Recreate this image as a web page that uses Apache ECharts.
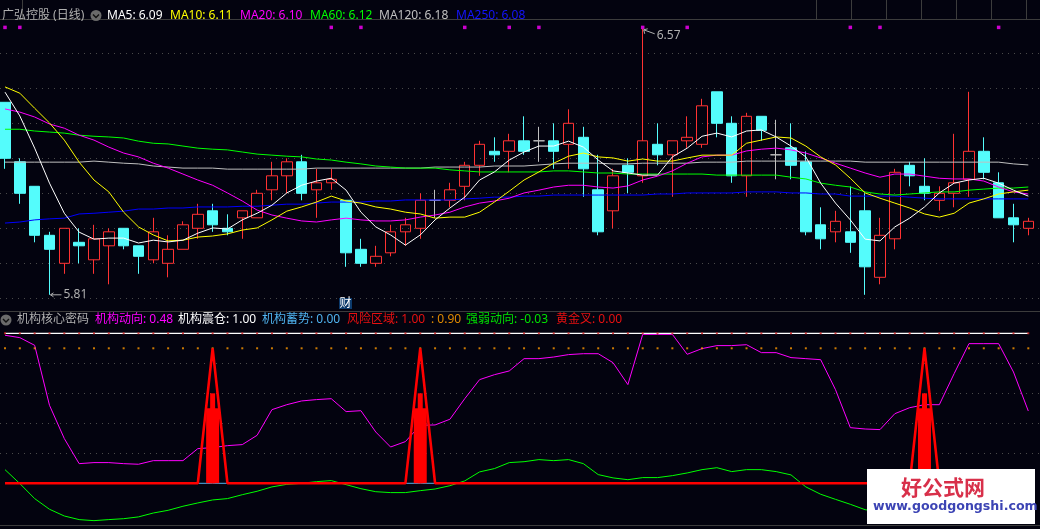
<!DOCTYPE html>
<html style="height: 100%">
<head>
<meta charset="utf-8">
<script src="https://cdn.jsdelivr.net/npm/echarts@6/dist/echarts.min.js"></script>
</head>
<body style="height: 100%; margin: 0; background: #03030f">
<div id="container" style="width: 1040px; height: 529px"></div>
<script type="text/javascript">
// daily candles
var opens = [6.36,6.19,6.12,5.98,5.90,5.96,5.91,5.95,6.00,5.95,
  5.91,5.90,5.94,6.00,6.05,6.00,6.03,6.03,6.11,6.15,
  6.19,6.11,6.13,6.08,5.94,5.90,5.93,5.99,6.00,6.08,
  6.08,6.12,6.18,6.22,6.22,6.25,6.25,6.25,6.24,6.26,
  6.11,6.05,6.18,6.15,6.24,6.21,6.25,6.24,6.39,6.30,
  6.15,6.32,6.21,6.23,6.19,6.01,5.99,5.99,6.05,5.86,
  5.97,6.18,6.12,6.08,6.10,6.14,6.22,6.13,6.03,6.00];
var closes = [6.20,6.10,5.98,5.94,6.00,5.95,5.97,5.99,5.95,5.92,
  5.99,5.94,6.01,6.04,6.01,5.99,6.05,6.10,6.15,6.19,
  6.10,6.13,6.14,5.93,5.90,5.92,5.99,6.01,6.08,6.08,
  6.11,6.18,6.24,6.21,6.25,6.22,6.25,6.22,6.30,6.17,
  5.99,6.15,6.16,6.25,6.21,6.25,6.26,6.35,6.30,6.15,
  6.32,6.28,6.21,6.18,5.99,5.97,6.02,5.96,5.89,5.98,
  6.16,6.15,6.10,6.10,6.13,6.22,6.16,6.03,6.01,6.02];
var lows = [6.17,6.07,5.96,5.81,5.87,5.90,5.87,5.84,5.94,5.87,
  5.90,5.86,5.94,5.97,5.99,5.98,5.97,6.03,6.08,6.10,
  6.08,6.03,6.11,5.89,5.89,5.89,5.92,5.95,5.97,6.03,
  6.06,6.08,6.15,6.19,6.16,6.21,6.19,6.17,6.17,6.09,
  5.98,6.00,6.10,6.13,6.18,6.09,6.23,6.23,6.26,6.13,
  6.09,6.25,6.14,6.14,5.98,5.94,5.96,5.93,5.81,5.84,
  5.94,6.12,6.08,6.05,6.06,6.09,6.14,6.03,5.96,5.98];
var highs = [6.36,6.20,6.12,5.99,6.00,6.00,6.01,6.00,6.00,5.95,
  6.03,5.98,6.02,6.07,6.07,6.04,6.05,6.11,6.19,6.20,
  6.21,6.17,6.17,6.08,5.97,5.95,6.01,6.03,6.10,6.11,
  6.13,6.19,6.25,6.26,6.27,6.32,6.29,6.30,6.34,6.29,
  6.21,6.17,6.20,6.57,6.30,6.25,6.32,6.37,6.39,6.32,
  6.33,6.32,6.31,6.30,6.22,6.06,6.05,6.12,6.10,6.03,
  6.17,6.19,6.20,6.12,6.27,6.39,6.26,6.16,6.07,6.03];

// moving averages
var ma5 = [6.389,6.321,6.229,6.129,6.043,5.989,5.969,5.972,5.972,5.958,
  5.966,5.961,5.966,5.986,6.001,5.998,6.024,6.043,6.066,6.101,
  6.123,6.135,6.143,6.109,6.046,6.004,5.981,5.952,5.981,6.024,
  6.058,6.089,6.138,6.161,6.195,6.218,6.235,6.235,6.249,6.232,
  6.195,6.164,6.158,6.152,6.152,6.204,6.229,6.263,6.272,6.261,
  6.278,6.281,6.261,6.235,6.204,6.129,6.072,6.024,5.969,5.964,
  6.004,6.029,6.061,6.101,6.129,6.138,6.143,6.129,6.109,6.092];
var ma10 = [6.404,6.386,6.343,6.301,6.252,6.189,6.138,6.104,6.046,6.004,
  5.981,5.964,5.966,5.975,5.978,5.984,5.995,6.001,6.024,6.049,
  6.061,6.075,6.092,6.078,6.072,6.061,6.055,6.046,6.041,6.029,
  6.032,6.032,6.046,6.075,6.106,6.138,6.161,6.186,6.206,6.215,
  6.204,6.201,6.192,6.198,6.192,6.192,6.201,6.209,6.209,6.209,
  6.243,6.252,6.261,6.258,6.235,6.204,6.181,6.143,6.101,6.086,
  6.072,6.058,6.041,6.032,6.043,6.072,6.084,6.098,6.104,6.109];
var ma20 = [6.341,6.332,6.318,6.298,6.286,6.266,6.252,6.232,6.215,6.204,
  6.186,6.172,6.155,6.138,6.123,6.101,6.078,6.052,6.038,6.029,
  6.021,6.018,6.024,6.029,6.024,6.021,6.021,6.024,6.032,6.038,
  6.046,6.061,6.072,6.078,6.086,6.101,6.109,6.118,6.123,6.123,
  6.118,6.115,6.121,6.138,6.149,6.164,6.186,6.204,6.209,6.209,
  6.221,6.226,6.229,6.224,6.215,6.201,6.186,6.172,6.158,6.146,
  6.155,6.155,6.149,6.143,6.141,6.141,6.135,6.118,6.104,6.098];
var ma60 = [6.283,6.283,6.278,6.275,6.272,6.266,6.263,6.261,6.258,6.249,
  6.243,6.241,6.235,6.229,6.226,6.224,6.218,6.212,6.209,6.206,
  6.204,6.198,6.195,6.189,6.184,6.178,6.175,6.172,6.172,6.172,
  6.167,6.164,6.161,6.161,6.161,6.161,6.161,6.164,6.164,6.161,
  6.158,6.158,6.155,6.155,6.155,6.155,6.155,6.155,6.152,6.152,
  6.152,6.152,6.152,6.146,6.141,6.129,6.123,6.118,6.104,6.098,
  6.095,6.098,6.101,6.104,6.104,6.109,6.112,6.115,6.115,6.118];
var ma120 = [6.189,6.189,6.189,6.189,6.189,6.189,6.192,6.189,6.186,6.184,
  6.178,6.175,6.172,6.172,6.172,6.169,6.169,6.169,6.169,6.169,
  6.169,6.172,6.172,6.172,6.172,6.172,6.172,6.172,6.172,6.175,
  6.175,6.175,6.175,6.178,6.178,6.178,6.181,6.184,6.186,6.186,
  6.186,6.184,6.184,6.186,6.186,6.186,6.186,6.189,6.189,6.189,
  6.192,6.192,6.192,6.192,6.192,6.192,6.192,6.192,6.189,6.189,
  6.189,6.189,6.189,6.189,6.189,6.189,6.189,6.189,6.184,6.181];
var ma250 = [6.015,6.018,6.024,6.027,6.029,6.041,6.043,6.046,6.049,6.055,
  6.055,6.058,6.058,6.061,6.061,6.061,6.063,6.063,6.066,6.069,
  6.069,6.072,6.075,6.075,6.075,6.078,6.078,6.081,6.081,6.081,
  6.081,6.084,6.086,6.089,6.089,6.092,6.092,6.095,6.095,6.095,
  6.095,6.095,6.095,6.095,6.098,6.098,6.101,6.101,6.101,6.101,
  6.104,6.104,6.104,6.101,6.101,6.098,6.098,6.092,6.092,6.092,
  6.092,6.089,6.086,6.084,6.084,6.084,6.084,6.084,6.084,6.084];

// days with a magenta marker above the candles
var markerDays = [0,1,22,24,31,34,36,43,46,57,59,67];
var markerLevel = 6.574;
var extremes = [[43, 6.57, 1], [3, 5.81, 0]];

// lower indicator panel
var trendLine = [0.987,0.971,0.920,0.520,0.298,0.131,0.138,0.138,0.131,0.127,
  0.151,0.151,0.151,0.231,0.238,0.251,0.258,0.320,0.491,0.524,
  0.549,0.558,0.564,0.478,0.484,0.342,0.242,0.278,0.387,0.389,
  0.427,0.564,0.691,0.724,0.749,0.831,0.831,0.842,0.858,0.864,
  0.864,0.804,0.658,0.993,0.993,0.993,0.860,0.898,0.918,0.918,
  0.924,0.871,0.871,0.838,0.831,0.824,0.624,0.371,0.362,0.358,
  0.464,0.504,0.524,0.524,0.731,0.931,0.931,0.931,0.742,0.482];
var strengthLine = [0.091,-0.002,-0.102,-0.173,-0.218,-0.242,-0.249,-0.242,-0.236,-0.224,
  -0.198,-0.180,-0.153,-0.131,-0.111,-0.102,-0.076,-0.053,-0.024,-0.007,
  0.000,0.011,0.018,-0.009,-0.036,-0.056,-0.062,-0.062,-0.049,-0.038,
  -0.016,0.016,0.076,0.098,0.138,0.144,0.158,0.151,0.158,0.131,
  0.058,0.036,0.024,0.038,0.038,0.051,0.069,0.091,0.104,0.078,
  0.091,0.091,0.078,0.056,-0.024,-0.073,-0.107,-0.140,-0.176,-0.190,
  -0.200,-0.200,-0.180,-0.160,-0.140,-0.120,-0.090,-0.070,-0.050,-0.030];
var spikeDays = [14, 28, 62];
var spikeTop = 0.9;
var wideStick = 0.5;
var narrowStick = 0.6;
var shakeLevel = 1.0;
var riskLevel = 1.0;
var warnLevel = 0.9;

var days = opens.map(function(v, i) { return i; });
var candles = opens.map(function(v, i) { return [v, closes[i], lows[i], highs[i]]; });
var constant = function(v) { return days.map(function() { return v; }); };
var onlySpikes = function(v, other) {
  return days.map(function(d) { return spikeDays.indexOf(d) >= 0 ? v : other; });
};

var BG = '#03030f', RED = '#ff3232', CYAN = '#54fcfc', GREY = '#c0c0c0';
var FONT = '"Noto Sans", "Noto Sans CJK SC", sans-serif';
var DOTS = { color: '#4a4a4a', type: [1, 5], width: 1 };

var maLine = function(name, data, color) {
  return { name: name, type: 'line', data: data, symbol: 'none', silent: true,
    lineStyle: { color: color, width: 1 }, z: 3 };
};
var lowerLine = function(name, data, color, width, z) {
  return { name: name, type: 'line', xAxisIndex: 1, yAxisIndex: 1, data: data, symbol: 'none',
    silent: true, lineStyle: { color: color, width: width }, z: z };
};
var lowerDots = function(name, v, color) {
  return { name: name, type: 'scatter', xAxisIndex: 1, yAxisIndex: 1, data: constant(v),
    symbol: 'rect', symbolSize: 2, silent: true, itemStyle: { color: color }, z: 4 };
};

// header text, panel by panel
var text = function(str, x, y, color, font) {
  return { type: 'text', x: x, y: y, z: 50, silent: true,
    style: { text: str, fill: color, font: font || ('12px ' + FONT), textVerticalAlign: 'middle' } };
};
var rule = function(x1, y1, x2, y2) {
  return { type: 'line', z: 40, silent: true, shape: { x1: x1, y1: y1, x2: x2, y2: y2 },
    style: { stroke: '#3c3c3c', lineWidth: 1 } };
};
var fold = function(x, y) {
  return { type: 'group', z: 50, silent: true, children: [
    { type: 'circle', z: 50, shape: { cx: x, cy: y, r: 5.5 }, style: { fill: '#6a6a6a' } },
    { type: 'polyline', z: 51, shape: { points: [[x - 3, y - 1], [x, y + 2], [x + 3, y - 1]] },
      style: { stroke: '#101010', fill: null, lineWidth: 1.4 } }
  ] };
};

var graphics = [
  rule(0, 19.5, 1040, 19.5), rule(0, 311.5, 1040, 311.5), rule(0, 525.5, 1040, 525.5),
  rule(22.5, 0, 22.5, 19), rule(816.5, 0, 816.5, 19), rule(851.5, 0, 851.5, 19),
  rule(886.5, 0, 886.5, 19), rule(921.5, 0, 921.5, 19), rule(956.5, 0, 956.5, 19),
  rule(991.5, 0, 991.5, 19), rule(1026.5, 0, 1026.5, 19),
  text('广弘控股 (日线)', 2, 15.5, '#b0b0b0'),
  fold(96, 15.5),
  text('MA5: 6.09', 107, 15.5, '#ffffff'),
  text('MA10: 6.11', 170, 15.5, '#ffff00'),
  text('MA20: 6.10', 240, 15.5, '#ff00ff'),
  text('MA60: 6.12', 310, 15.5, '#00ff00'),
  text('MA120: 6.18', 379, 15.5, GREY),
  text('MA250: 6.08', 456, 15.5, '#1414ff'),
  fold(6, 320),
  text('机构核心密码', 17, 320, '#b0b0b0'),
  text('机构动向: 0.48', 95, 320, '#ff00ff'),
  text('机构震仓: 1.00', 178, 320, '#ffffff'),
  text('机构蓄势: 0.00', 262, 320, '#50b4f0'),
  text('风险区域: 1.00', 347, 320, '#e81010'),
  text(': 0.90', 431, 320, '#e08a00'),
  text('强弱动向: -0.03', 466, 320, '#00e000'),
  text('黄金叉: 0.00', 556, 320, '#e81010'),
  { type: 'rect', z: 49, silent: true, shape: { x: 339, y: 298, width: 13, height: 11 },
    style: { fill: '#0c3a6c' } },
  text('财', 339.5, 303.5, '#ffffff', '12px ' + FONT),
  // site watermark
  { type: 'rect', z: 60, silent: true, shape: { x: 867, y: 469, width: 168, height: 55 },
    style: { fill: '#ffffff' } },
  { type: 'text', z: 61, silent: true, x: 901, y: 487,
    style: { text: '好公式网', fill: '#d8304a', font: 'bold 21px "Noto Sans CJK SC"', textVerticalAlign: 'middle' } },
  { type: 'text', z: 61, silent: true, x: 873, y: 507,
    style: { text: 'www.goodgongshi.com', fill: '#3c44b4', font: 'bold 12.6px "DejaVu Sans"', textVerticalAlign: 'middle' } }
];

var dom = document.getElementById('container');
var myChart = echarts.init(dom);
var option = {
  backgroundColor: BG,
  animation: false,
  tooltip: { show: false },
  grid: [
    { left: 5, width: 1023.3, top: 18.3, height: 280 },
    { left: 5, width: 1023.3, top: 333.3, height: 192 },
    // full width backdrops that only carry the dotted rules
    { left: 0, width: 1040, top: 53.3, height: 245 },
    { left: 0, width: 1040, top: 363.3, height: 90 }
  ],
  xAxis: [
    { type: 'category', gridIndex: 0, data: days, show: false, boundaryGap: false },
    { type: 'category', gridIndex: 1, data: days, show: false, boundaryGap: false },
    { type: 'category', gridIndex: 1, data: days, show: false, boundaryGap: false },
    { type: 'category', gridIndex: 2, data: days, show: false },
    { type: 'category', gridIndex: 3, data: days, show: false }
  ],
  yAxis: [
    { type: 'value', gridIndex: 0, min: 5.8, max: 6.6, show: false, splitLine: { show: false } },
    { type: 'value', gridIndex: 1, min: -0.28, max: 1, show: false, splitLine: { show: false } },
    { type: 'value', gridIndex: 2, min: 5.8, max: 6.5, interval: 0.1,
      axisLine: { show: false }, axisTick: { show: false }, axisLabel: { show: false },
      splitLine: { lineStyle: DOTS } },
    { type: 'value', gridIndex: 3, min: 0.2, max: 0.8, interval: 0.2,
      axisLine: { show: false }, axisTick: { show: false }, axisLabel: { show: false },
      splitLine: { lineStyle: DOTS } }
  ],
  series: [
    { name: 'K', type: 'candlestick', data: candles, barWidth: 11, silent: true, z: 2, clip: false,
      itemStyle: { color: 'rgba(0,0,0,0)', borderColor: RED, color0: CYAN, borderColor0: CYAN,
        borderColorDoji: GREY, borderWidth: 1 } },
    maLine('MA120', ma120, GREY),
    maLine('MA250', ma250, '#0000ff'),
    maLine('MA60', ma60, '#00ff00'),
    maLine('MA20', ma20, '#ff00ff'),
    maLine('MA10', ma10, '#ffff00'),
    maLine('MA5', ma5, '#ffffff'),
    { name: 'marker', type: 'scatter', data: markerDays.map(function(d) { return [d, markerLevel]; }),
      symbol: 'rect', symbolSize: 3.5, silent: true, itemStyle: { color: '#ff00ff' }, z: 4, clip: false },
    { name: 'extreme', type: 'custom', data: extremes, silent: true, z: 5, clip: false,
      encode: { x: 0, y: 1 },
      renderItem: function(params, api) {
        var pt = api.coord([api.value(0), api.value(1)]);
        var high = api.value(2) === 1;
        var tip = [pt[0] + 1, pt[1] + (high ? 1 : 0)];
        var end = high ? [tip[0] + 11, tip[1] + 4] : [tip[0] + 11, tip[1]];
        var head = high ? [[tip[0] + 4, tip[1] - 1], tip, [tip[0] + 1, tip[1] + 4]]
                        : [[tip[0] + 3, tip[1] - 2], tip, [tip[0] + 3, tip[1] + 2]];
        var style = { stroke: '#b0b0b0', lineWidth: 1, fill: null };
        return { type: 'group', children: [
          { type: 'line', shape: { x1: tip[0], y1: tip[1], x2: end[0], y2: end[1] }, style: style },
          { type: 'polyline', shape: { points: head }, style: style },
          { type: 'text', style: { text: api.value(1).toFixed(2), x: end[0] + 2, y: end[1] + (high ? 2 : 0),
            fill: '#b0b0b0', font: '12px ' + FONT, verticalAlign: 'middle', textVerticalAlign: 'middle' } }
        ] };
      } },

    lowerLine('机构动向', trendLine, '#ff00ff', 1, 3),
    lowerLine('强弱动向', strengthLine, '#00ff00', 1, 3),
    lowerLine('机构蓄势', constant(0), '#50b4f0', 1, 3),
    lowerLine('机构震仓', constant(shakeLevel), '#ffffff', 1.5, 3),
    lowerDots('风险区域', riskLevel, '#d02020'),
    lowerDots('warn', warnLevel, '#ff9900'),
    { name: 'wide', type: 'bar', xAxisIndex: 1, yAxisIndex: 1, barWidth: 13, silent: true, z: 5,
      data: onlySpikes(wideStick, null), itemStyle: { color: '#ff0000' } },
    { name: 'narrow', type: 'bar', xAxisIndex: 2, yAxisIndex: 1, barWidth: 5, silent: true, z: 5,
      data: onlySpikes(narrowStick, null), itemStyle: { color: '#ff0000' } },
    lowerLine('spike', onlySpikes(spikeTop, 0), '#ff0000', 2.6, 6)
  ],
  graphic: graphics
};
if (option && typeof option === "object") {
  myChart.setOption(option, true);
}
</script>
</body>
</html>
